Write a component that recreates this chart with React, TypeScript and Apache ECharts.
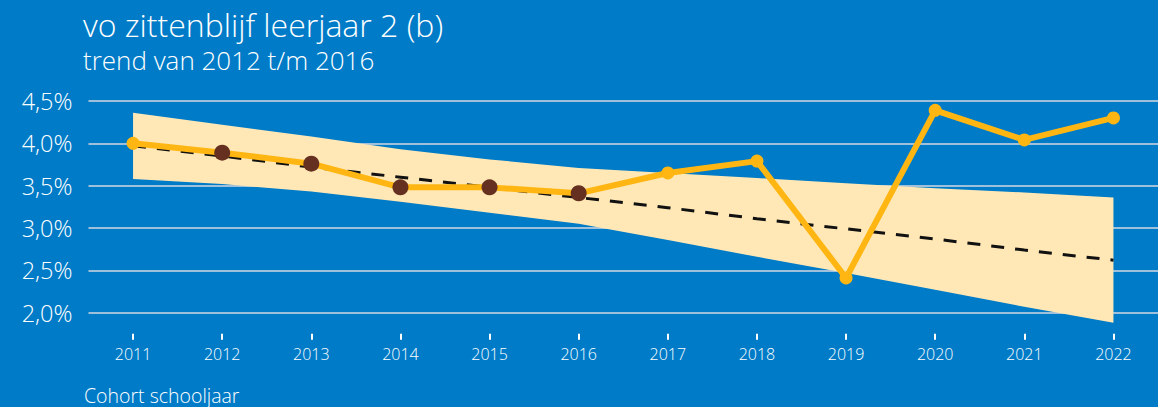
import React, { useEffect, useRef } from "react";
import * as echarts from "echarts";

const years = ["2011", "2012", "2013", "2014", "2015", "2016", "2017", "2018", "2019", "2020", "2021", "2022"];
const actual = [4.0, 3.89, 3.76, 3.48, 3.48, 3.41, 3.65, 3.79, 2.41, 4.39, 4.04, 4.3];
const trend = [3.97, 3.85, 3.72, 3.6, 3.48, 3.36, 3.24, 3.11, 2.99, 2.87, 2.74, 2.62];
const bandUpper = [4.36, 4.22, 4.08, 3.93, 3.81, 3.71, 3.65, 3.59, 3.53, 3.47, 3.42, 3.36];
const bandLower = [3.58, 3.52, 3.43, 3.31, 3.18, 3.05, 2.86, 2.66, 2.47, 2.27, 2.07, 1.88];
const trendYears = ["2012", "2013", "2014", "2015", "2016"];
const yTicks = [2.0, 2.5, 3.0, 3.5, 4.0, 4.5];

const title = "vo zittenblijf leerjaar 2 (b)";
const subtitle = "trend van 2012 t/m 2016";
const xAxisName = "Cohort schooljaar";

const FONT = "'Open Sans', 'Noto Sans', sans-serif";

export default function App() {
  const ref = useRef<HTMLDivElement>(null);
  useEffect(() => {
    if (!ref.current) return;
    const chart = echarts.init(ref.current, null, { renderer: "svg" });
    const bandDiff = bandUpper.map((u, i) => +(u - bandLower[i]).toFixed(3));
    const actualData = actual.map((v, i) =>
      trendYears.includes(years[i])
        ? { value: v, symbolSize: 16, itemStyle: { color: "#65301f" } }
        : { value: v }
    );
    chart.setOption({
      animation: false,
      backgroundColor: "#007BC7",
      textStyle: { fontFamily: FONT },
      grid: { left: 88.5, right: 0, top: 101, bottom: 94.3, containLabel: false },
      xAxis: {
        type: "category",
        data: years,
        boundaryGap: true,
        offset: 21,
        axisLine: { show: false },
        axisTick: { show: true, alignWithLabel: true, length: 6, lineStyle: { color: "#ffffff", width: 2 } },
        axisLabel: { color: "#ffffff", fontSize: 16, fontWeight: 300, margin: 12, fontFamily: FONT },
        splitLine: { show: false },
      },
      yAxis: {
        type: "value",
        min: yTicks[0],
        max: yTicks[yTicks.length - 1],
        interval: 0.5,
        axisLine: { show: false },
        axisTick: { show: false },
        axisLabel: {
          color: "#ffffff",
          fontSize: 23.5,
          fontWeight: 300,
          margin: 16,
          fontFamily: FONT,
          formatter: (v: number) => v.toFixed(1).replace(".", ",") + "%",
        },
        splitLine: { show: true, lineStyle: { color: "#9EC0DA", width: 2 } },
      },
      series: [
        {
          type: "line",
          stack: "band",
          data: bandLower,
          symbol: "none",
          clip: false,
          lineStyle: { opacity: 0, width: 0 },
          z: 1,
        },
        {
          type: "line",
          stack: "band",
          data: bandDiff,
          symbol: "none",
          clip: false,
          lineStyle: { opacity: 0, width: 0 },
          areaStyle: { color: "#FFE8B6", opacity: 1 },
          z: 1,
        },
        {
          type: "line",
          data: trend,
          symbol: "none",
          lineStyle: { color: "#111111", width: 3, type: [13, 11] },
          z: 3,
        },
        {
          type: "line",
          data: actualData,
          symbol: "circle",
          symbolSize: 13,
          showAllSymbol: true,
          lineStyle: { color: "#FFB612", width: 6 },
          itemStyle: { color: "#FFB612" },
          z: 5,
        },
      ],
      graphic: [
        {
          type: "text",
          left: 83,
          top: 8,
          style: { text: title, fill: "#ffffff", fontSize: 32, fontWeight: 300, fontFamily: FONT },
        },
        {
          type: "text",
          left: 83,
          top: 47,
          style: { text: subtitle, fill: "#ffffff", fontSize: 26, fontWeight: 300, fontFamily: FONT },
        },
        {
          type: "text",
          left: 84,
          top: 385,
          style: { text: xAxisName, fill: "#ffffff", fontSize: 19.5, fontWeight: 300, fontFamily: FONT },
        },
      ],
    });
    return () => chart.dispose();
  }, []);
  return (
    <div
      ref={ref}
      style={{ position: "absolute", left: 0, top: 0, width: 1158, height: 407 }}
    />
  );
}
